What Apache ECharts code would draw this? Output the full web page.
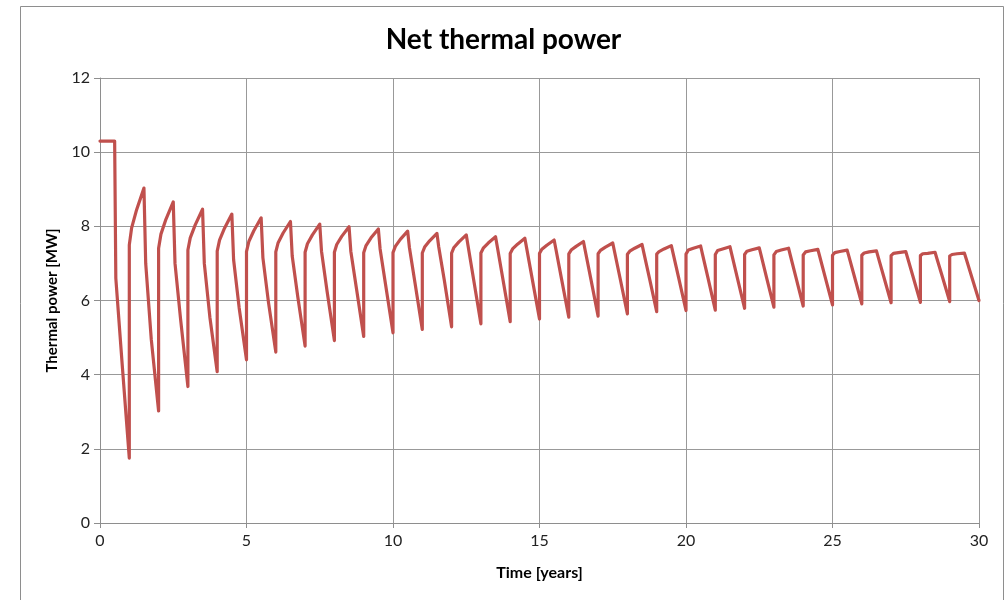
<!DOCTYPE html>
<html>
<head>
<meta charset="utf-8">
<script src="https://cdn.jsdelivr.net/npm/echarts@6/dist/echarts.min.js"></script>
<style>
html,body{margin:0;padding:0;background:#fff;}
#chart{width:1007px;height:600px;}
</style>
</head>
<body>
<div id="chart"></div>
<script>
// ---- data ----
const xTicks = [0, 5, 10, 15, 20, 25, 30];
const yTicks = [0, 2, 4, 6, 8, 10, 12];

// initial plateau and first descent [time, MW]
const initialSegment = [[0, 10.3], [0.5, 10.3], [0.54, 6.6], [0.75, 4.35]];

// minimum at the start of each year t = 1..30 (just before the jump)
const mins = [1.75, 3.02, 3.68, 4.08, 4.40, 4.61, 4.77, 4.92, 5.03, 5.13,
              5.22, 5.29, 5.37, 5.43, 5.50, 5.55, 5.58, 5.64, 5.70, 5.73,
              5.74, 5.79, 5.82, 5.85, 5.88, 5.91, 5.94, 5.95, 5.97, 6.00];
// value right after the jump at t = n (n = 1..29)
const starts = [7.50, 7.41, 7.36, 7.33, 7.32, 7.31, 7.30, 7.30, 7.29, 7.29,
                7.28, 7.28, 7.28, 7.27, 7.27, 7.26, 7.26, 7.25, 7.25, 7.25,
                7.24, 7.24, 7.23, 7.23, 7.22, 7.22, 7.21, 7.21, 7.20];
// value at t = n + 0.08
const rise1 = [7.96, 7.79, 7.69, 7.63, 7.59, 7.56, 7.53, 7.51, 7.48, 7.46,
               7.44, 7.43, 7.41, 7.39, 7.38, 7.36, 7.35, 7.33, 7.32, 7.36,
               7.35, 7.33, 7.32, 7.31, 7.29, 7.28, 7.27, 7.26, 7.24];
// value at t = n + 0.25
const rise2 = [8.45, 8.19, 8.04, 7.95, 7.88, 7.82, 7.77, 7.73, 7.69, 7.65,
               7.61, 7.58, 7.55, 7.52, 7.49, 7.46, 7.44, 7.41, 7.39, 7.41,
               7.39, 7.37, 7.36, 7.34, 7.32, 7.31, 7.29, 7.27, 7.26];
// peak at t = n + 0.5
const peaks = [9.03, 8.66, 8.46, 8.33, 8.23, 8.13, 8.06, 7.99, 7.93, 7.87,
               7.81, 7.77, 7.72, 7.68, 7.63, 7.59, 7.55, 7.51, 7.48, 7.47,
               7.45, 7.42, 7.41, 7.38, 7.36, 7.34, 7.32, 7.30, 7.28];
// value at t = n + 0.56
const drop1 = [7.00, 7.00, 7.00, 7.10, 7.15, 7.20, 7.33, 7.33, 7.39, 7.43,
               7.45, 7.48, 7.45, 7.42, 7.38, 7.35, 7.32, 7.29, 7.27, 7.26,
               7.25, 7.23, 7.22, 7.20, 7.19, 7.17, 7.16, 7.14, 7.13];
// value at t = n + 0.75
const drop2 = [4.95, 5.50, 5.55, 5.80, 5.95, 6.10, 6.25, 6.34, 6.41, 6.48,
               6.55, 6.57, 6.58, 6.59, 6.59, 6.59, 6.60, 6.61, 6.61, 6.61,
               6.62, 6.62, 6.63, 6.63, 6.64, 6.64, 6.64, 6.64, 6.64];
// time offsets inside one year for the arrays above
const phase = {start: 0, rise1: 0.08, rise2: 0.25, peak: 0.5, drop1: 0.56, drop2: 0.75};

// ---- build the series ----
const seriesData = initialSegment.slice();
for (let i = 0; i < starts.length; i++) {
  const n = i + 1;
  seriesData.push([n, mins[i]]);
  seriesData.push([n + phase.start, starts[i]]);
  seriesData.push([n + phase.rise1, rise1[i]]);
  seriesData.push([n + phase.rise2, rise2[i]]);
  seriesData.push([n + phase.peak, peaks[i]]);
  seriesData.push([n + phase.drop1, drop1[i]]);
  seriesData.push([n + phase.drop2, drop2[i]]);
}
seriesData.push([30, mins[mins.length - 1]]);

const chart = echarts.init(document.getElementById('chart'), null, {renderer: 'canvas'});
const labelFont = 'Lato, "Open Sans", sans-serif';
chart.setOption({
  animation: false,
  backgroundColor: '#ffffff',
  graphic: [{
    type: 'rect',
    shape: {x: 20.5, y: 6.5, width: 983, height: 620},
    style: {fill: 'none', stroke: '#8e8e8e', lineWidth: 1},
    silent: true
  }],
  title: {
    text: 'Net thermal power',
    left: 'center',
    top: 21,
    textStyle: {fontFamily: labelFont, fontWeight: 'bold', fontSize: 28, color: '#000'}
  },
  grid: {left: 100, right: 28, top: 78, bottom: 77},
  xAxis: {
    type: 'value',
    min: 0, max: 30, interval: 5,
    name: 'Time [years]',
    nameLocation: 'middle',
    nameGap: 42,
    nameTextStyle: {fontFamily: labelFont, fontWeight: 'bold', fontSize: 16, color: '#000'},
    axisLine: {show: true, lineStyle: {color: '#8e8e8e', width: 1}},
    axisTick: {show: true, inside: false, length: 5, lineStyle: {color: '#8e8e8e'}},
    axisLabel: {fontFamily: labelFont, fontSize: 16, color: '#222', margin: 10,
      formatter: v => xTicks.includes(v) ? String(v) : ''},
    splitLine: {show: true, lineStyle: {color: '#999', width: 1}}
  },
  yAxis: {
    type: 'value',
    min: 0, max: 12, interval: 2,
    name: 'Thermal power [MW]',
    nameLocation: 'middle',
    nameGap: 40,
    nameTextStyle: {fontFamily: labelFont, fontWeight: 'bold', fontSize: 15, color: '#000'},
    axisLine: {show: true, lineStyle: {color: '#8e8e8e', width: 1}},
    axisTick: {show: true, inside: false, length: 6, lineStyle: {color: '#8e8e8e'}},
    axisLabel: {fontFamily: labelFont, fontSize: 16, color: '#222', margin: 10,
      formatter: v => yTicks.includes(v) ? String(v) : ''},
    splitLine: {show: true, lineStyle: {color: '#999', width: 1}}
  },
  series: [{
    type: 'line',
    data: seriesData,
    showSymbol: false,
    symbol: 'none',
    smooth: false,
    lineStyle: {color: '#c0504d', width: 3.2, join: 'round', cap: 'round'},
    clip: true
  }]
});
</script>
</body>
</html>
